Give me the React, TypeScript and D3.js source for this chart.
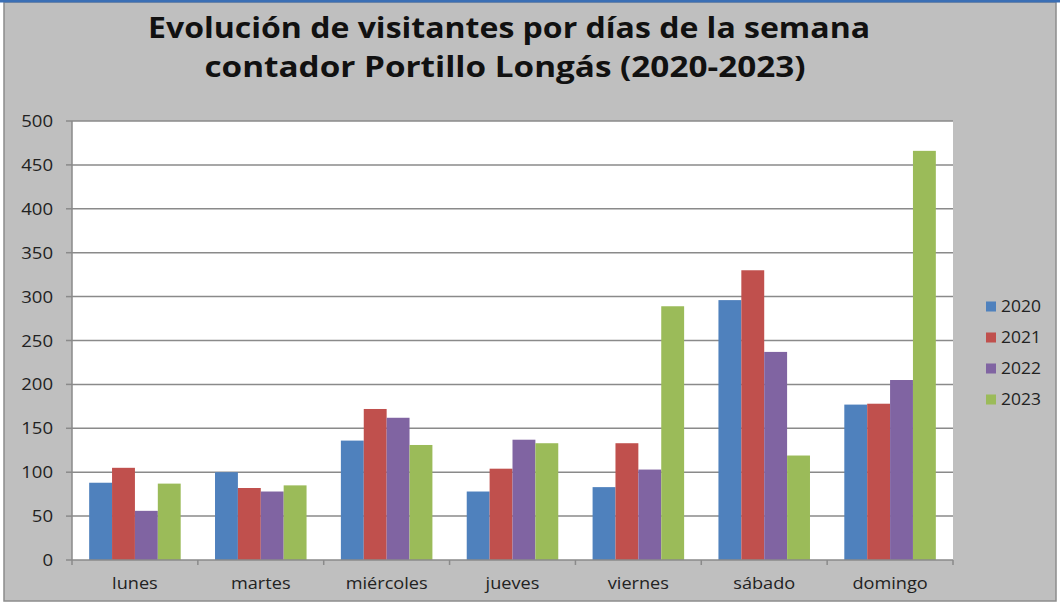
import React from "react";
import * as d3 from "d3";

const days = ["lunes", "martes", "miércoles", "jueves", "viernes", "sábado", "domingo"];
const years = ["2020", "2021", "2022", "2023"];
const v2020 = [88, 100, 136, 78, 83, 296, 177];
const v2021 = [105, 82, 172, 104, 133, 330, 178];
const v2022 = [56, 78, 162, 137, 103, 237, 205];
const v2023 = [87, 85, 131, 133, 289, 119, 466];
const yTicks = [0, 50, 100, 150, 200, 250, 300, 350, 400, 450, 500];
const colors = ["#4F81BD", "#C0504D", "#8064A2", "#9BBB59"];
const titleLines = ["Evolución de visitantes por días de la semana", "contador Portillo Longás (2020-2023)"];

const series = [v2020, v2021, v2022, v2023];

export default function App() {
  const W = 1060, H = 605;
  const left = 72, right = 953, top = 121, bottom = 560;
  const x = d3.scaleBand<string>().domain(days).range([left, right]).paddingInner(0).paddingOuter(0);
  const bw = x.bandwidth() / 5.5;
  const y = d3.scaleLinear().domain([0, 500]).range([bottom, top]);
  const font = "Open Sans, Liberation Sans, sans-serif";
  const titleLen = [722, 601];
  const titleX = [509, 505];
  const titleY = [38, 77];
  return (
    <svg width={W} height={H} style={{ position: "absolute", left: 0, top: 0 }}>
      <rect x={0} y={0} width={W} height={H} fill="#fff" />
      <rect x={4} y={2} width={1052} height={599} fill="#BFBFBF" stroke="#8C8C8C" strokeWidth={1.5} />
      <line x1={0} x2={W} y1={1} y2={1} stroke="#3B6FB5" strokeWidth={3} />
      {titleLines.map((t, i) => (
        <text key={i} x={titleX[i]} y={titleY[i]} textAnchor="middle" fontFamily={font} fontWeight="bold" fontSize={28} fill="#111"
          textLength={titleLen[i]} lengthAdjust="spacingAndGlyphs">
          {t}
        </text>
      ))}
      <rect x={left} y={top} width={right - left} height={bottom - top} fill="#fff" />
      {yTicks.map((t) => (
        <g key={t}>
          {t > 0 && <line x1={left} x2={right} y1={y(t)} y2={y(t)} stroke="#8A8A8A" strokeWidth={1.5} />}
          <line x1={left - 6} x2={left} y1={y(t)} y2={y(t)} stroke="#8A8A8A" strokeWidth={1.5} />
          <g transform={`translate(53,${y(t) + 6}) scale(1.16,1)`}>
            <text x={0} y={0} textAnchor="end" fontFamily={font} fontSize={16} fill="#222">{t}</text>
          </g>
        </g>
      ))}
      {days.map((d, i) =>
        series.map((s, j) => (
          <rect key={d + j} x={(x(d) as number) + bw * 0.75 + j * bw} y={y(s[i])} width={bw} height={bottom - y(s[i])} fill={colors[j]} />
        ))
      )}
      <line x1={left} x2={left} y1={top} y2={bottom} stroke="#8A8A8A" strokeWidth={1.5} />
      <line x1={left} x2={right} y1={bottom} y2={bottom} stroke="#8A8A8A" strokeWidth={1.5} />
      {days.map((d) => (
        <line key={"t" + d} x1={x(d)} x2={x(d)} y1={bottom} y2={bottom + 5} stroke="#8A8A8A" strokeWidth={1.5} />
      ))}
      <line x1={right} x2={right} y1={bottom} y2={bottom + 5} stroke="#8A8A8A" strokeWidth={1.5} />
      {days.map((d) => (
        <g key={"l" + d} transform={`translate(${(x(d) as number) + x.bandwidth() / 2},589) scale(1.1,1)`}>
          <text x={0} y={0} textAnchor="middle" fontFamily={font} fontSize={16.5} fill="#222">{d}</text>
        </g>
      ))}
      {years.map((yr, i) => (
        <g key={yr}>
          <rect x={986} y={301.5 + i * 31} width={10} height={10} fill={colors[i]} />
          <g transform={`translate(1001,${312 + i * 31}) scale(1.09,1)`}>
            <text x={0} y={0} fontFamily={font} fontSize={16} fill="#222">{yr}</text>
          </g>
        </g>
      ))}
    </svg>
  );
}
